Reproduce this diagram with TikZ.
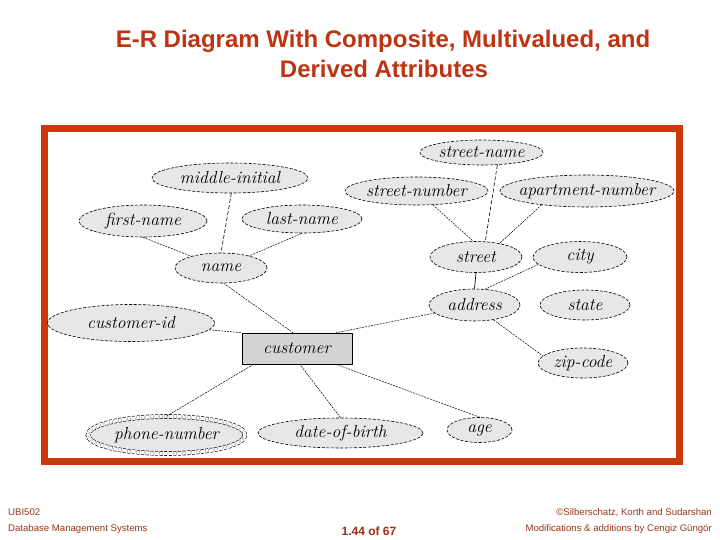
\documentclass[tikz,border=0pt]{standalone}
\usepackage{fontspec}
\newfontfamily\headfont{Liberation Sans}
\usetikzlibrary{shapes.geometric}
\definecolor{framered}{RGB}{200,58,10}
\definecolor{titlered}{RGB}{188,52,18}
\definecolor{footred}{RGB}{150,55,25}
\definecolor{attrfill}{RGB}{231,231,231}
\definecolor{entfill}{RGB}{212,212,212}
\tikzset{
  attr/.style={ellipse, draw=black, fill=attrfill, line width=0.6pt,
    dash pattern=on 3pt off 1.6pt, inner ysep=0pt, inner xsep=-14pt,
    font=\fontsize{17.5}{19}\selectfont\itshape},
  ent/.style={rectangle, draw=black, fill=entfill, line width=0.6pt, inner sep=0pt,
    minimum width=110pt, minimum height=31pt, font=\fontsize{17.5}{19}\selectfont\itshape},
  link/.style={draw=black, line width=0.5pt, dash pattern=on 2pt off 1pt},
  dlink/.style={draw=black, line width=0.6pt, dash pattern=on 4pt off 2pt},
  slink/.style={draw=black, line width=0.7pt},
  foot/.style={font=\headfont\fontsize{9.6}{11}\selectfont, text=footred, inner sep=0pt},
  ttl/.style={font=\headfont\bfseries\fontsize{24}{28}\selectfont, text=titlered, anchor=base, inner sep=0pt},
}
\begin{document}
\begin{tikzpicture}[x=1pt,y=-1pt]
\useasboundingbox (0,0) rectangle (720,540);
\fill[white] (0,0) rectangle (720,540);
% title
\node[ttl] (t1) at (383,48) {E-R Diagram With Composite, Multivalued, and};
\node[ttl] (t2) at (384,78) {Derived Attributes};
% frame
\draw[framered, line width=7pt] (44.5,128.5) rectangle (679,461.5);
% attributes
\node[attr, minimum width=123pt, minimum height=25pt] (sname) at (481.5,152.5) {street-name};
\node[attr, minimum width=143pt, minimum height=28pt] (snum) at (416.5,191) {street-number};
\node[attr, minimum width=174pt, minimum height=32pt] (apt) at (587,191) {apartment-number};
\node[attr, minimum width=156pt, minimum height=30pt] (mi) at (230,178) {middle-initial};
\node[attr, minimum width=128pt, minimum height=32pt] (fn) at (143,221) {first-name};
\node[attr, minimum width=120pt, minimum height=28pt] (ln) at (302,219) {last-name};
\node[attr, minimum width=92pt, minimum height=30pt] (name) at (221,268) {name};
\node[attr, minimum width=92pt, minimum height=31pt] (street) at (476,257) {street};
\node[attr, minimum width=94pt, minimum height=31pt] (city) at (580,257) {city};
\node[attr, minimum width=91pt, minimum height=32pt] (address) at (474.5,305) {address};
\node[attr, minimum width=90pt, minimum height=30pt] (state) at (585,305) {state};
\node[attr, minimum width=90pt, minimum height=30pt] (zip) at (583,363) {zip-code};
\node[attr, minimum width=167pt, minimum height=37pt] (cid) at (131,323) {customer-id};
\node[attr, minimum width=157pt, minimum height=37pt, double, double distance=3.4pt] (phone) at (166.5,435) {phone-number};
\node[attr, minimum width=165pt, minimum height=30pt] (dob) at (340.5,433) {date-of-birth};
\node[attr, minimum width=65pt, minimum height=25pt] (age) at (479.5,430) {age};
% entity
\node[ent] (customer) at (297,348.5) {customer};
% connectors
\draw[link] (fn.south) -- (name);
\draw[dlink] (mi.-85) -- (name.north);
\draw[link] (ln.south) -- (name);
\draw[link] (name.-80) -- (customer.104);
\draw[link] (cid) -- (customer.north west);
\draw[link] (address) -- (customer.22);
\draw[link] (phone.north) -- (customer.-160);
\draw[link] (dob.north) -- (customer.-80);
\draw[link] (age.north) -- (customer.-22);
\draw[dlink] (sname.-38) -- (street.59);
\draw[link] (snum.-40) -- (street.100);
\draw[link] (apt.-163) -- (street.30);
\draw[slink] (street.south) -- (address.north);
\draw[link] (city.-170) -- (address.56);
\draw[link] (address.-38) -- (zip.170);
% footer
\node[foot, anchor=base west] (f1) at (8,515) {UBI502};
\node[foot, anchor=base west] (f2) at (8,531) {Database Management Systems};
\node[foot, anchor=base east] (f3) at (712,515) {©Silberschatz, Korth and Sudarshan};
\node[foot, anchor=base east] (f4) at (712,531) {Modifications \& additions by Cengiz Güngör};
\node[font=\headfont\bfseries\fontsize{12}{14}\selectfont, text=titlered!85!black, anchor=base, inner sep=0pt] (f5) at (369,535) {1.44 of 67};
\end{tikzpicture}
\end{document}
